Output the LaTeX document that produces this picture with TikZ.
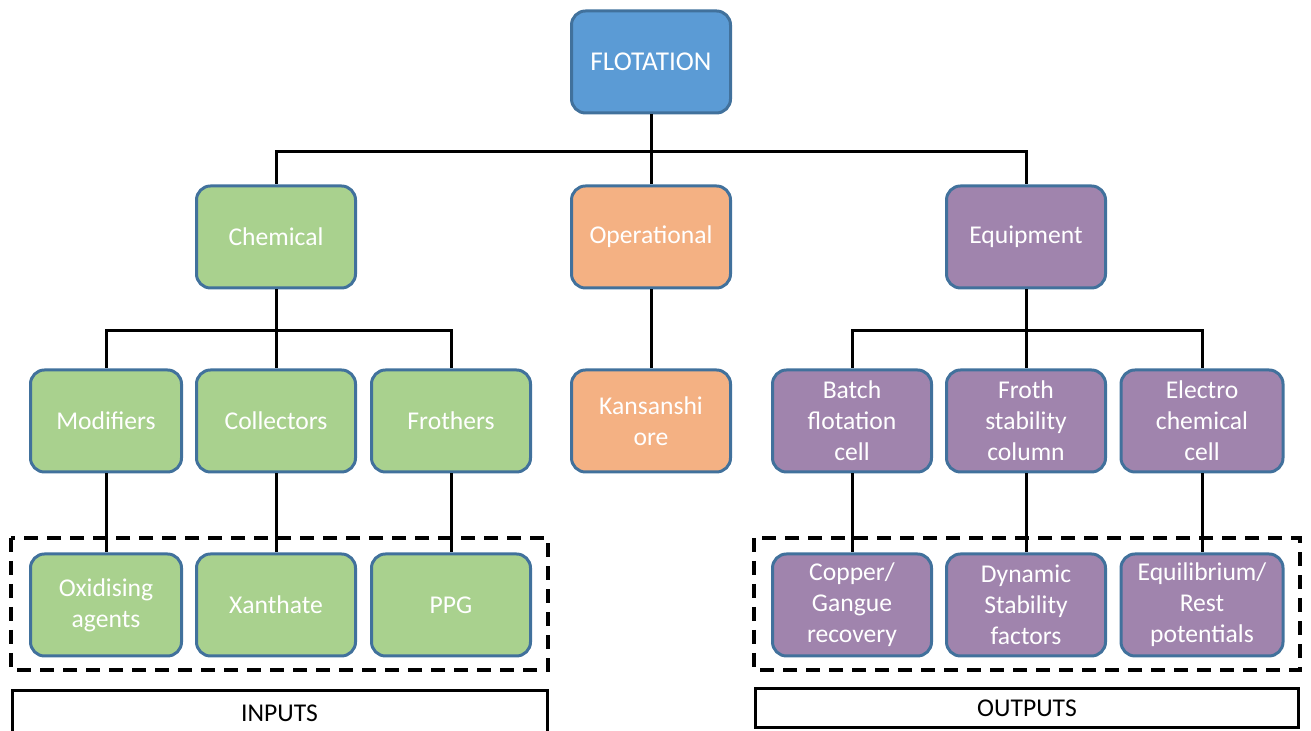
\documentclass[tikz,border=0pt]{standalone}
\usepackage{fontspec}
\setmainfont{Carlito}
\usetikzlibrary{positioning}

\definecolor{boxline}{HTML}{41719C}
\definecolor{rootfill}{HTML}{5B9BD5}
\definecolor{greenfill}{HTML}{A9D18E}
\definecolor{orangefill}{HTML}{F4B183}
\definecolor{purplefill}{HTML}{A084AD}

\begin{document}
\begin{tikzpicture}[x=0.5pt,y=0.5pt,node distance=87.5pt,line width=1.5pt]
		\tikzstyle{box}=[draw=boxline,line width=1.5pt,rounded corners=7pt,minimum width=79.5pt,minimum height=51pt,text=white,align=center,font=\fontsize{12.8}{15.5}\selectfont]
		\tikzstyle{rootbox}=[box,fill=rootfill,font=\fontsize{13.6}{16}\selectfont]
		\tikzstyle{greenbox}=[box,fill=greenfill]
		\tikzstyle{orangebox}=[box,fill=orangefill]
		\tikzstyle{purplebox}=[box,fill=purplefill]
		\tikzstyle{dashedbox}=[draw=black,line width=1.7pt,dash pattern=on 7pt off 4.5pt]
		\tikzstyle{labelbox}=[draw=black,line width=1.5pt,minimum width=267.5pt,font=\fontsize{12.8}{15.5}\selectfont]

		\useasboundingbox (0,0) rectangle (1311,731);

		\node[rootbox] (flot) at (651,669) {FLOTATION};
		\node[orangebox] (oper) [below of=flot] {Operational};
		\node[greenbox] (chem) [left of=oper, node distance=187.5pt] {Chemical};
		\node[purplebox] (equip) [right of=oper, node distance=187.5pt] {Equipment};

		\node[greenbox] (coll) [below of=chem, node distance=92pt] {Collectors};
		\node[greenbox, minimum width=75.5pt] (modi) [left of=coll, node distance=85pt] {Modifiers};
		\node[greenbox] (froth) [right of=coll] {Frothers};
		\node[orangebox] (kans) [below of=oper, node distance=92pt] {Kansanshi\\ore};
		\node[purplebox] (froc) [below of=equip, node distance=92pt] {Froth\\stability\\column};
		\node[purplebox] (batch) [left of=froc, node distance=87pt] {Batch\\flotation\\cell};
		\node[purplebox, minimum width=81pt] (elec) [right of=froc, node distance=88pt] {Electro\\chemical\\cell};

		\node[greenbox, minimum width=75.5pt] (oxid) [below of=modi, node distance=92pt] {Oxidising\\agents};
		\node[greenbox] (xant) [below of=coll, node distance=92pt] {Xanthate};
		\node[greenbox] (ppg) [below of=froth, node distance=92pt] {PPG};
		\node[purplebox] (copp) [below of=batch, node distance=92pt] {Copper/\\Gangue\\recovery};
		\node[purplebox] (dyna) [below of=froc, node distance=92pt] {Dynamic\\Stability\\factors};
		\node[purplebox, minimum width=81pt] (equi) [below of=elec, node distance=92pt] {Equilibrium/\\Rest\\potentials};

		\coordinate (bustop) at (651,579);
		\coordinate (buschem) at (276,400);
		\coordinate (busequip) at (1026,400);

		\draw (flot) -- (oper);
		\draw (bustop) -| (chem);
		\draw (bustop) -| (equip);
		\draw (chem) -- (coll);
		\draw (buschem) -| (modi);
		\draw (buschem) -| (froth);
		\draw (equip) -- (froc);
		\draw (busequip) -| (batch);
		\draw (busequip) -| (elec);
		\draw (oper) -- (kans);
		\draw (modi) -- (oxid);
		\draw (coll) -- (xant);
		\draw (froth) -- (ppg);
		\draw (batch) -- (copp);
		\draw (froc) -- (dyna);
		\draw (elec) -- (equi);

		\draw[dashedbox] (11,193) rectangle (548,61);
		\draw[dashedbox] (754,193) rectangle (1300,61);

		\node[labelbox, minimum height=22pt] (inputs) at (279.5,18) {INPUTS};
		\node[labelbox, minimum width=271.5pt, minimum height=19.5pt] (outputs) at (1027,22.5) {OUTPUTS};
	\end{tikzpicture}
\end{document}
